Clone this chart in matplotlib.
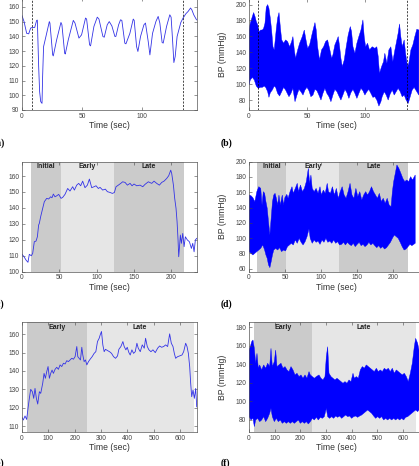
import matplotlib.pyplot as plt
import numpy as np

plt.rcParams['font.family'] = ['Liberation Sans', 'DejaVu Sans']

# ---- panel a: HR, short recording
a_t = [0, 1.7, 3.9, 5.6, 7.2, 8.6, 10.6, 12.2, 12.8, 13.9, 14.7, 15.6, 16.7, 17.2, 18, 20, 22.8, 23.3,
       25.6, 26.1, 28.9, 32.5, 33.3, 35.6, 36.1, 38.6, 42.8, 44.2, 47.5, 49.7, 53, 53.9, 56.4, 57.2,
       60, 62.8, 64.2, 67.5, 68.6, 71.1, 72.8, 75, 77.5, 78.3, 80.6, 82.2, 83.3, 85.8, 86.7, 90,
       92.8, 93.6, 95.6, 96.7, 98.9, 101.7, 103, 105.3, 106.7, 108.9, 111.7, 113.6, 115, 116.9,
       117.8, 120.6, 123.3, 124.4, 125.6, 126.7, 127.8, 129.4, 132.5, 134.4, 136.7, 138.6, 140.6,
       141.7, 143.3, 145.6]
a_hr = [154, 150, 142, 141.7, 145.6, 146, 146, 150.8, 151, 119.5, 102.5, 95.7, 94.5, 112.7, 133, 140,
        150, 149, 127.4, 126.7, 137.6, 149.4, 147.8, 128.5, 128, 137.6, 150.8, 149, 138.8, 141,
        152.4, 151.7, 134.2, 133.5, 146.7, 153, 151.7, 139.9, 139.4, 147.8, 150, 147, 139.9, 139.9,
        147.8, 151.2, 150.8, 135.3, 134.9, 142, 151.7, 150.8, 133, 129.7, 139.9, 147.8, 149, 136.5,
        127.4, 142, 150, 153.5, 149, 135.8, 135.4, 146.7, 154.6, 153, 137.6, 122.2, 126.3, 139.9,
        149.4, 152.4, 155.3, 156.9, 159.2, 158, 154.6, 151.2]
a_dash = [8.6, 134]

# ---- panel b: BP envelope, short recording
b_t_up = [0, 1.1, 2.9, 4, 5.2, 6.3, 7.5, 8.6, 10.1, 11.5, 12.6, 13.8, 14.9, 16.1, 17.2, 18.4, 19.5,
          20.7, 21.8, 23.6, 24.7, 25.9, 27, 28.2, 29.9, 31.6, 33.3, 35.1, 36.8, 37.9, 39.1, 40.2, 42,
          43.7, 46, 47.7, 48.9, 50.6, 52.3, 54.6, 56.9, 58, 59.2, 60.9, 62.6, 64.4, 66.1, 67.8, 69.5,
          71.3, 72.4, 74.1, 75.9, 77, 78.2, 79.3, 80.5, 82.2, 83.9, 85.6, 87.4, 88.5, 89.7, 91.4,
          93.1, 94.8, 96.6, 98.3, 99.4, 100.6, 102.3, 104, 106.3, 108.6, 110.3, 111.5, 112.6, 114.4,
          116.1, 117.2, 119, 120.7, 122.4, 124.1, 125.9, 127.6, 128.7, 129.9, 131, 132.2, 133.9,
          135.1, 136.8, 137.9, 139.7, 141.4, 143.1, 144.8, 146.6]
b_up = [168, 176.6, 185, 190, 185, 178.7, 174.5, 166, 168, 168, 170, 176.6, 196.7, 200, 195.4, 182.9,
        168, 147, 143, 170, 183, 190, 172.4, 155.6, 151.4, 155.6, 153.5, 147, 153.5, 159.8, 143,
        132.5, 143, 151.4, 159.8, 168, 157.7, 145, 149.3, 164, 177.4, 168, 147, 130.4, 143, 147,
        153.5, 155.6, 145, 132.5, 136.7, 149.3, 155.6, 159.8, 147, 132.5, 122, 130.4, 147, 161.9,
        172.4, 166, 147, 138.8, 151.4, 159.8, 168, 180.8, 159.8, 147, 151.4, 143, 147, 145, 147,
        134.6, 113.6, 122, 128.3, 138.8, 126.2, 143, 147, 128.3, 143, 155.6, 164, 175.7, 159.8, 147,
        155.6, 138.8, 122, 126.2, 143, 149.3, 159.8, 169, 168]
b_t_lo = [0, 1.1, 2.9, 4.6, 6.3, 8, 9.8, 11.5, 13.2, 14.4, 16.1, 17.2, 18.4, 20.1, 21.8, 23, 24.7,
          26.4, 28.2, 29.9, 31.6, 33.3, 34.5, 36.2, 37.9, 39.7, 41.4, 43.1, 44.8, 46.6, 48.3, 50,
          51.7, 53.4, 55.2, 56.9, 58.6, 60.3, 62.1, 63.8, 65.5, 67.2, 69, 70.7, 72.4, 74.1, 75.9,
          77.6, 79.3, 81, 82.8, 84.5, 86.2, 87.9, 89.7, 91.4, 93.1, 94.8, 96.6, 98.3, 100, 101.7,
          103.4, 105.2, 106.9, 108.6, 110.3, 112.1, 113.8, 114.9, 116.7, 118.4, 120.1, 121.8, 123.6,
          125.3, 127, 128.7, 130.5, 132.2, 133.9, 135.6, 137.4, 139.1, 140.8, 142.5, 144.8, 146.6]
b_lo = [98.9, 105.2, 108.5, 105.2, 97.6, 94.7, 96, 96, 97.6, 96, 90.5, 83.4, 89.2, 92.6, 97.6, 96,
        88.4, 85, 90.5, 96, 92.6, 87.6, 84.2, 88.4, 94.7, 77.9, 86.3, 93.4, 90.5, 86.3, 92.6, 96,
        91.8, 84.2, 86.3, 93.4, 91.8, 86.3, 80, 88.4, 94.7, 88.4, 84.2, 77.9, 86.3, 93.4, 90.5, 85,
        80, 86.3, 93.4, 89.2, 82.1, 89.2, 93.4, 88.4, 82.1, 88.4, 94.7, 91.8, 86.3, 90.5, 93.4,
        88.4, 83.4, 84.2, 80, 72.4, 77.9, 84.2, 90.5, 86.3, 80, 87.6, 92.6, 86.3, 90.5, 94.7, 90.5,
        84.2, 86.3, 80, 75.8, 84.2, 92.6, 96, 90.5, 86.3]
b_dash = [8.0, 136]

# ---- panel c: HR, phases Initial / Early / Late
c_t = [0, 2.7, 5.4, 8, 9.8, 12.5, 14.3, 16.5, 18.8, 20.6, 22.3, 23.2, 25, 27.7, 29.9, 33.1, 35.7,
       38.4, 40.2, 42, 44.2, 46.5, 49.2, 52.3, 54.5, 57.6, 61.2, 64.3, 67.9, 70.2, 73.3, 76, 78.6,
       81.3, 84.4, 87.6, 90.3, 93.4, 96.5, 99.2, 102.3, 104.6, 108.1, 111.7, 114.4, 118, 121.1,
       123.8, 126, 129.1, 132.3, 134.9, 138.1, 141.2, 144.8, 147.5, 150.1, 153.7, 158.2, 161.8,
       164.9, 169.3, 173.8, 176.9, 180.5, 184.1, 187.2, 190.3, 193.9, 196.6, 199.3, 200.6, 202.9,
       204.6, 206.4, 207.8, 209.1, 210, 210.9, 212.2, 213.6, 215.4, 217.2, 218.9, 221.6, 224.3, 227,
       228.8, 230.6, 232.3, 234.1]
c_hr = [110.9, 109.4, 107.3, 105.9, 110.9, 110, 111.5, 118.8, 119.2, 121.9, 129.3, 130.3, 134.5,
        139.7, 143.9, 146, 145.6, 147, 146.4, 148.7, 147, 147.6, 148.5, 146, 146.6, 148.5, 152.2,
        150.6, 153.3, 151.2, 154.3, 155.4, 153.9, 156.8, 152.7, 154.3, 158.1, 152.7, 153.3, 153.9,
        152.2, 152.9, 151.2, 151.8, 150.2, 149.7, 149.1, 149.7, 153.3, 154.3, 155.4, 156.4, 156,
        154.3, 155.4, 153.9, 155, 153.9, 154.3, 153.3, 154.8, 156.4, 155.4, 156.8, 155.4, 154.3,
        156, 156.8, 158.5, 160.2, 163.7, 161.6, 154.3, 146, 139.7, 131.3, 119.9, 109.4, 114.6, 123,
        117.8, 124, 115.7, 121.9, 119.9, 118.8, 114.6, 117.8, 112.5, 119.9, 120.9]
c_phase_names = ['Initial', 'Early', 'Late']
c_phase_edges = [11.6, 52, 123, 217]

# ---- panel d: BP envelope, phases Initial / Early / Late
d_t_up = [0, 2.7, 5.4, 8.1, 10.9, 13.6, 16.3, 18.1, 19.9, 21.7, 23.5, 25.3, 27.1, 29, 30.8, 32.6,
          34.4, 36.2, 38, 39.8, 41.6, 43.4, 46.2, 48, 49.8, 52.5, 54.3, 57, 59.7, 61.5, 64.3, 67,
          68.8, 71.5, 74.2, 76.9, 79.6, 82.4, 84.2, 86, 87.8, 90.5, 93.2, 95.9, 98.6, 100.5, 103.2,
          105.9, 108.6, 110.4, 113.1, 115.8, 118.6, 121.3, 124, 126.7, 129.4, 132.1, 134.8, 137.6,
          140.3, 143, 145.7, 148.4, 151.1, 153.8, 156.6, 159.3, 162, 164.7, 167.4, 170.1, 172.9,
          175.6, 178.3, 181, 183.7, 186.4, 189.1, 191.9, 194.6, 197.3, 199.1, 200.9, 202.7, 205.4,
          208.1, 210.9, 213.6, 216.3, 219, 221.7, 224.4, 227.1, 230.8]
d_up = [156.4, 155.5, 152.9, 147.7, 160.8, 167.3, 165.1, 143.3, 160.8, 158.6, 147.7, 139, 121.5,
        104.1, 125.9, 147.7, 156.4, 158.6, 152.1, 143.3, 156.4, 143.3, 156.4, 143.3, 152.9, 157.3,
        152.1, 160.8, 167.3, 158.6, 165.1, 171.7, 160.8, 169.5, 160.8, 165.1, 173.9, 191.3, 171.7,
        182.6, 165.1, 160.8, 165.1, 158.6, 167.3, 156.4, 162.9, 158.6, 171.7, 160.8, 158.6, 167.3,
        156.4, 165.1, 152.1, 160.8, 167.3, 156.4, 152.1, 160.8, 171.7, 156.4, 152.1, 165.1, 154.2,
        160.8, 149.9, 156.4, 160.8, 156.4, 160.8, 167.3, 160.8, 156.4, 152.1, 158.6, 147.7, 152.1,
        145.5, 152.1, 143.3, 141.2, 160.8, 173.9, 182.6, 195.7, 191.3, 184.8, 178.2, 173.9, 176.1,
        173.9, 180.4, 176.1, 182.6]
d_t_lo = [0, 2.7, 5.4, 8.1, 10.9, 13.6, 16.3, 19.1, 21.7, 23.5, 25.3, 27.1, 29, 30.8, 32.6, 34.4,
          37, 39.8, 42.5, 45.2, 48, 50.7, 53.4, 56.1, 58.8, 61.5, 64.3, 67, 69.7, 72.4, 75.1, 77.9,
          80.6, 83.3, 85, 87.8, 90.5, 93.2, 95.9, 98.6, 101.4, 104.1, 106.8, 109.5, 112.2, 114.9,
          117.6, 120.4, 123.1, 125.8, 128.5, 131.2, 133.9, 136.7, 139.4, 142.1, 144.8, 147.5, 150.2,
          153, 155.7, 158.4, 161.1, 163.8, 166.5, 169.2, 172, 174.7, 177.4, 180.1, 182.8, 185.5,
          188.2, 191, 193.7, 196.4, 199.1, 201.8, 204.5, 207.2, 210, 212.7, 215.4, 218.1, 220.8,
          223.5, 226.2, 230.8]
d_lo = [82.3, 80.1, 77.9, 80.1, 82.3, 84.4, 86.6, 91, 84.4, 77.9, 73.5, 64.8, 61.3, 69.2, 77.9,
        84.4, 86.6, 84.4, 87.5, 82.3, 84.4, 83.1, 88.8, 91, 93.2, 91, 97.5, 93.2, 99.7, 94.5, 91,
        95.3, 101.9, 111.9, 99.7, 93.2, 97.5, 94.5, 96.2, 91.8, 97.5, 94.5, 99.7, 94.5, 96.2, 93.2,
        97.5, 93.2, 95.3, 91, 91.8, 94.5, 91, 94.5, 91.8, 90.1, 93.2, 88.8, 91.8, 94.5, 90.1, 91.8,
        88.8, 91, 94.5, 91, 93.2, 90.1, 87.5, 90.1, 86.6, 88.8, 85.7, 87.5, 91, 94.5, 99.7, 104.1,
        101.9, 99.7, 94.5, 88.8, 84.4, 85.7, 88.8, 91.8, 90.1, 93.2]
d_phase_edges = [11.6, 52, 125, 221]

# ---- panel e: HR, long recording, phases Early / Late
e_t = [0, 5, 11.4, 17.7, 22.8, 27.9, 33, 39.3, 44.4, 49.4, 54.5, 59.6, 65.9, 71, 78.6, 83.7, 88.7,
       93.8, 98.9, 103.9, 109, 114.1, 119.1, 125.5, 131.8, 138.1, 144.5, 150.8, 157.2, 163.5, 169.8,
       176.2, 182.5, 188.8, 195.2, 201.5, 207.9, 211.7, 216.7, 221.8, 226.9, 230.7, 235.7, 240.8,
       245.9, 252.2, 258.6, 266.2, 273.8, 280.1, 286.4, 292.8, 296.6, 301.6, 306.7, 311.8, 316.8,
       324.5, 332.1, 339.7, 347.3, 354.9, 362.5, 367.6, 375.2, 382.8, 387.8, 394.2, 399.2, 405.6,
       410.6, 417, 423.3, 429.7, 436, 441.1, 448.7, 456.3, 463.9, 468.9, 475.3, 481.6, 489.2,
       496.8, 505.7, 514.6, 522.2, 529.8, 537.4, 545, 552.6, 560.2, 566.5, 572.9, 577.9, 583,
       590.6, 598.2, 607.1, 613.4, 621, 626.1, 631.2, 636.2, 640, 643.9, 648.9, 654, 659.1, 662.9]
e_hr = [114.7, 113.3, 115.5, 113.6, 119.6, 125.1, 130, 128.7, 125.1, 130.5, 125.1, 122, 128.7,
        127.8, 133.3, 138.7, 136, 139.6, 142.4, 136, 138.7, 140.5, 138.7, 140.9, 142, 140.9, 143.3,
        142.4, 144.2, 143.8, 145.6, 145.1, 146, 146.9, 146.4, 147.8, 153.3, 147.8, 146.9, 146,
        152.9, 148.7, 145.1, 146, 143.3, 145.1, 146.4, 147.8, 149.6, 150.5, 156, 157.8, 159.6,
        161.5, 154.2, 150.5, 151.8, 151.1, 150.5, 149.6, 147.8, 146.9, 148.2, 151.8, 153.3, 156,
        153.3, 151.5, 152.9, 150, 148.7, 151.5, 149.6, 150.5, 155.1, 152.4, 150.5, 154.2, 152.4,
        157.8, 153.3, 151.5, 150.5, 151.5, 150, 152.4, 153.6, 152.9, 153.3, 154.2, 153.3, 160.2,
        155.1, 153.3, 149.6, 146.9, 147.8, 148.2, 148.7, 150.5, 155.1, 153.3, 149.6, 142.4, 133.3,
        126, 129.6, 125.1, 130.5, 120.5]
e_phase_names = ['Early', 'Late']
e_phase_edges = [20, 245, 651]

# ---- panel f: BP envelope, long recording, phases Early / Late
f_t_up = [0, 5.2, 10.4, 15.6, 20.8, 25.9, 31.1, 36.3, 41.5, 49.3, 57.1, 64.9, 72.6, 80.4, 85.6,
          90.8, 98.6, 103.8, 108.9, 116.7, 124.5, 132.3, 140.1, 147.9, 155.6, 163.4, 171.2, 179,
          186.8, 194.6, 202.3, 210.1, 217.9, 225.7, 233.5, 238.7, 246.4, 254.2, 262, 272.4, 280.2,
          287.9, 295.7, 300.9, 306.1, 311.3, 319.1, 326.8, 334.6, 342.4, 350.2, 358, 365.8, 373.5,
          381.3, 389.1, 396.9, 404.7, 409.9, 417.6, 425.4, 433.2, 441, 448.8, 456.5, 464.3, 472.1,
          479.9, 487.7, 495.5, 503.2, 511, 518.8, 526.6, 534.4, 542.1, 549.9, 557.7, 565.5, 573.3,
          581.1, 588.8, 596.6, 604.4, 612.2, 620, 627.8, 635.5, 643.3, 648.5, 656.3, 661.5]
f_up = [155.5, 159.1, 164.5, 166.3, 157.3, 141.2, 151.9, 135.8, 139.4, 134, 139.4, 135.8, 141.2,
        137.6, 157.3, 137.6, 142.9, 155.5, 137.6, 139.4, 141.2, 135.8, 137.6, 134, 132.2, 137.6,
        134, 128.6, 130.4, 126.8, 128.6, 125, 128.6, 125, 132.2, 128.6, 126.8, 125, 126.8, 128.6,
        125, 123.2, 126.8, 148.3, 159.1, 130.4, 126.8, 125, 123.2, 125, 123.2, 121.4, 119.6, 121.4,
        119.6, 123.2, 121.4, 130.4, 125, 126.8, 125, 134, 137.6, 135.8, 139.4, 137.6, 135.8, 134,
        132.2, 135.8, 132.2, 134, 132.2, 135.8, 134, 135.8, 132.2, 135.8, 130.4, 134, 132.2, 130.4,
        128.6, 130.4, 126.8, 121.4, 130.4, 141.2, 159.1, 168.1, 162.7, 155.5]
f_t_lo = [0, 7.8, 15.6, 20.8, 25.9, 33.7, 41.5, 49.3, 57.1, 64.9, 72.6, 80.4, 85.6, 90.8, 98.6,
          106.4, 114.1, 121.9, 129.7, 137.5, 145.3, 153, 160.8, 168.6, 176.4, 184.2, 192, 199.7,
          207.5, 215.3, 223.1, 230.9, 238.7, 246.4, 254.2, 262, 269.8, 277.6, 285.3, 293.1, 300.9,
          306.1, 313.9, 321.7, 329.4, 337.2, 345, 352.8, 360.6, 368.4, 376.1, 383.9, 391.7, 399.5,
          407.3, 415, 422.8, 430.6, 438.4, 446.2, 454, 461.7, 469.5, 477.3, 485.1, 492.9, 500.6,
          508.4, 516.2, 524, 531.8, 539.5, 547.3, 555.1, 562.9, 570.7, 578.5, 586.2, 594, 601.8,
          609.6, 617.4, 625.2, 633, 640.7, 648.5, 656.3, 661.5]
f_lo = [83.6, 80, 81.8, 72.8, 80, 81.8, 78.2, 80, 83.6, 78.2, 81.8, 87.2, 92.6, 83.6, 78.2, 81.8,
        78.2, 80, 76.4, 78.2, 76.4, 78.2, 76.4, 78.2, 76.4, 78.2, 80, 76.4, 78.2, 76.4, 78.2, 75.7,
        78.2, 81.8, 80, 82.9, 80, 82.9, 81.8, 83.6, 92.6, 83.6, 81.8, 83.6, 81.8, 84.3, 82.9, 84.3,
        81.8, 83.6, 85.4, 83.6, 84.3, 81.8, 83.6, 84.3, 82.9, 84.3, 85.4, 87.2, 89, 90.8, 89, 87.2,
        84.3, 81.8, 83.6, 81.8, 83.6, 80, 81.8, 80, 81.8, 80, 81.8, 80, 81.8, 80, 81.8, 80, 82.9,
        83.6, 85.4, 87.2, 89, 90.8, 89, 90.8]
f_phase_edges = [20, 244, 651]

W, H = 419, 466
fig = plt.figure(figsize=(W / 100, H / 100), dpi=100)


def box(l, t, r, b):
    return [l / W, 1 - b / H, (r - l) / W, (b - t) / H]


dark = '#cbcbcb'
light = '#e6e6e6'
hr_col = (0.2, 0.2, 0.9)
bp_col = (0, 0, 1)


def style(ax, xlim, ylim, xt, yt, ylab):
    ax.set_xlim(xlim)
    ax.set_ylim(ylim)
    ax.set_xticks(xt)
    ax.set_yticks(yt)
    ax.tick_params(direction='in', length=2, width=0.4, labelsize=4.8, pad=2,
                   colors='#444444', top=True, right=True, labeltop=False, labelright=False)
    for s in ax.spines.values():
        s.set_color('#555555')
        s.set_linewidth(0.5)
    ax.set_xlabel('Time (sec)', fontsize=6.2, color='#333333', labelpad=1)
    ax.set_ylabel(ylab, fontsize=6.2, color='#333333')
    ax.yaxis.set_label_coords(-0.125, 0.5)


def shade(ax, edges, names, cols):
    for i in range(len(names)):
        ax.axvspan(edges[i], edges[i + 1], color=cols[i], lw=0, zorder=0)
        ax.text((edges[i] + edges[i + 1]) / 2, 0.985, names[i], transform=ax.get_xaxis_transform(),
                ha='center', va='top', fontsize=5, fontweight='bold', color='#222222')


def plabel(x, y, s):
    fig.text(x / W, 1 - y / H, s, ha='left', va='center', fontsize=7, fontweight='bold',
             family=['Liberation Serif', 'DejaVu Serif'])


# (a)
ax = fig.add_axes(box(22, -2, 197, 110))
ax.plot(a_t, a_hr, color=hr_col, lw=0.6)
for x in a_dash:
    ax.axvline(x, color='k', ls='--', lw=0.5, dashes=(3, 2))
style(ax, (0, 146), (90, 166), [0, 50, 100], range(90, 161, 10), 'HR (bpm)')

# (b)
ax = fig.add_axes(box(249, -1, 424, 110))
ax.fill(np.r_[b_t_up, b_t_lo[::-1]], np.r_[b_up, b_lo[::-1]], color=bp_col, lw=0.3)
for x in b_dash:
    ax.axvline(x, color='k', ls='--', lw=0.5, dashes=(3, 2))
style(ax, (0, 151), (67.5, 207), [0, 50, 100], range(80, 201, 20), 'BP (mmHg)')

# (c)
ax = fig.add_axes(box(22, 161.7, 197, 271.7))
shade(ax, c_phase_edges, c_phase_names, [dark, light, dark])
ax.plot(c_t, c_hr, color=hr_col, lw=0.6)
style(ax, (0, 234.5), (100, 169), range(0, 201, 50), range(100, 161, 10), 'HR (bpm)')

# (d)
ax = fig.add_axes(box(249, 161.7, 424, 271.7))
shade(ax, d_phase_edges, c_phase_names, [dark, light, dark])
ax.fill(np.r_[d_t_up, d_t_lo[::-1]], np.r_[d_up, d_lo[::-1]], color=bp_col, lw=0.3)
style(ax, (0, 243), (56, 200), range(0, 201, 50), range(60, 201, 20), 'BP (mmHg)')

# (e)
ax = fig.add_axes(box(22, 322.3, 197, 432.3))
shade(ax, e_phase_edges, e_phase_names, [dark, light])
ax.plot(e_t, e_hr, color=hr_col, lw=0.6)
style(ax, (0, 664), (106.6, 166.5), range(0, 601, 100), range(110, 161, 10), 'HR (bpm)')

# (f)
ax = fig.add_axes(box(249, 322.3, 424, 432.3))
shade(ax, f_phase_edges, e_phase_names, [dark, light])
ax.fill(np.r_[f_t_up, f_t_lo[::-1]], np.r_[f_up, f_lo[::-1]], color=bp_col, lw=0.3)
style(ax, (0, 681), (66.7, 185.4), range(0, 601, 100), range(80, 181, 20), 'BP (mmHg)')

plabel(-6, 143, '(a)')
plabel(221, 143, '(b)')
plabel(-6, 304, '(c)')
plabel(221, 304, '(d)')
plabel(-6, 463, '(e)')
plabel(221, 463, '(f)')

fig.savefig('out.png', dpi=100)
